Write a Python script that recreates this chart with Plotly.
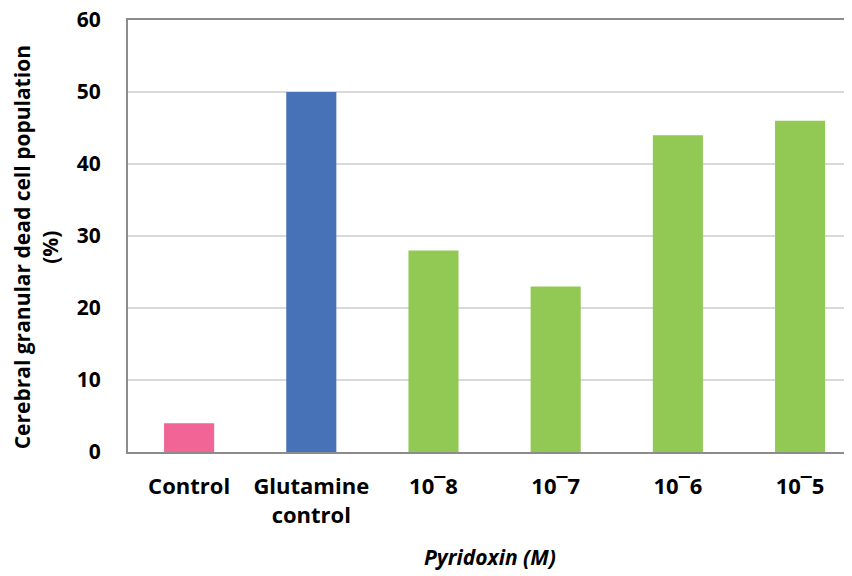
import plotly.graph_objects as go

categories = ["Control", "Glutamine<br>control", "10¯8", "10¯7", "10¯6", "10¯5"]
values = [4, 50, 28, 23, 44, 46]
colors = ["#F06595", "#4872B8", "#92C955", "#92C955", "#92C955", "#92C955"]
y_ticks = [0, 10, 20, 30, 40, 50, 60]

font_family = "Open Sans, Liberation Sans, Arial, sans-serif"

fig = go.Figure(go.Bar(
    x=list(range(len(categories))),
    y=values,
    marker=dict(color=colors, line=dict(width=0)),
    width=0.41,
))

fig.update_layout(
    width=844, height=568,
    margin=dict(l=120, r=0, t=12, b=124, autoexpand=False),
    plot_bgcolor="white", paper_bgcolor="white",
    showlegend=False,
    font=dict(family=font_family, color="black"),
    xaxis=dict(
        tickmode="array",
        tickvals=list(range(len(categories))),
        ticktext=categories,
        range=[-0.5, 5.425],
        automargin=False,
        showline=True, linecolor="#8c8c8c", linewidth=2, mirror=True,
        showgrid=False, ticks="",
        tickfont=dict(size=22, family=font_family, weight="bold"),
        ticklabelstandoff=14,
    ),
    yaxis=dict(
        range=[0, 60.0001],
        tickvals=y_ticks,
        automargin=False,
        ticklabeloverflow="allow",
        showline=True, linecolor="#8c8c8c", linewidth=2,
        showgrid=True, gridcolor="#d9d9d9", gridwidth=1.5,
        ticks="", zeroline=False,
        tickfont=dict(size=21, family=font_family, weight="bold"),
        ticklabelstandoff=21,
    ),
    annotations=[
        dict(text="Cerebral granular dead cell population<br>(%)",
             xref="paper", yref="paper", x=-0.128, y=0.4745,
             xanchor="center", yanchor="middle", textangle=-90,
             showarrow=False,
             font=dict(size=21, family=font_family, weight="bold")),
        dict(text="<i>Pyridoxin (M)</i>",
             xref="paper", yref="paper", x=0.5, y=-0.243,
             xanchor="center", yanchor="middle",
             showarrow=False,
             font=dict(size=21, family=font_family, weight="bold")),
    ],
)

fig.write_html("out.html")
